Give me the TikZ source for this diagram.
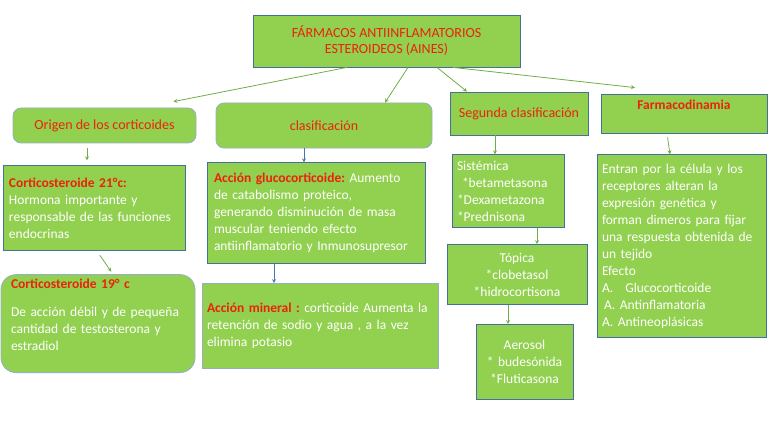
\documentclass[tikz,border=0pt]{standalone}
\usepackage{fontspec}
\setmainfont{Carlito}
\usepackage{xcolor}
\usepackage{tikz}
\usetikzlibrary{arrows, positioning, calc}

\definecolor{boxgreen}{RGB}{146,208,80}
\definecolor{edgeblue}{RGB}{65,113,156}
\definecolor{edgelight}{RGB}{150,175,195}
\definecolor{headred}{RGB}{235,35,10}
\definecolor{linkgreen}{RGB}{112,173,71}
\definecolor{linkblue}{RGB}{68,114,196}

\newcommand{\hd}[1]{\textcolor{headred}{\textbf{#1}}}
\frenchspacing

\begin{document}
\begin{tikzpicture}[
  x=1pt, y=-1pt,
  titlebox/.style={draw=edgeblue, fill=boxgreen, text=headred,
                   align=center, font=\fontsize{14}{16}\selectfont,
                   minimum width=267pt, minimum height=52pt},
  hdbox/.style={draw=edgeblue, fill=boxgreen, text=headred,
                font=\fontsize{14}{16}\selectfont, inner sep=0pt},
  roundbox/.style={hdbox, draw=edgelight, rounded corners=8pt},
  infobox/.style={draw=edgeblue, fill=boxgreen, text=white, align=left,
                  font=\fontsize{13.5}{17}\selectfont,
                  inner xsep=6pt, inner ysep=0pt},
  listbox/.style={infobox, align=center},
  linkarrow/.style={->, draw=linkgreen},
  bluelink/.style={->, draw=linkblue},
  >=stealth, line width=0.8pt
]
\useasboundingbox (0,0) rectangle (768,433);

\node[titlebox] (main) at (386.5,41)
    {FÁRMACOS ANTIINFLAMATORIOS\\ESTEROIDEOS (AINES)};

% column 1
\node[roundbox, minimum width=183pt, minimum height=35pt] (orig)
    at (104.5,125.5) {Origen de los corticoides};
\node[infobox, text width=170pt, minimum height=85pt,
      below=22pt of orig, xshift=-10.5pt] (cort21)
    {\hd{Corticosteroide 21°c:}\\ Hormona importante y\\
     responsable de las funciones\\ endocrinas};
\node[infobox, draw=edgelight, rounded corners=15pt, inner xsep=10pt,
      text width=174pt, minimum height=98pt,
      below=23pt of cort21, xshift=4pt] (cort19)
    {\hd{Corticosteroide 19° c}\\[11pt] De acción débil y de pequeña\\
     cantidad de testosterona y\\ estradiol\\ \mbox{}};

% column 2
\node[roundbox, minimum width=216pt, minimum height=45pt] (clas)
    at (324,125.5) {clasificación};
\node[infobox, inner xsep=7pt, text width=204pt, minimum height=101pt,
      below=14pt of clas, xshift=-8pt] (gluco)
    {\hd{Acción glucocorticoide:} Aumento\\ de catabolismo proteico,\\
     generando disminución de masa\\ muscular teniendo efecto\\
     antiinflamatorio y Inmunosupresor};
\node[infobox, draw=edgelight, inner xsep=5pt, text width=226pt,
      minimum height=85pt, below=19pt of gluco, xshift=4pt] (miner)
    {\hd{Acción mineral :} corticoide Aumenta la\\
     retención de sodio y agua , a la vez\\ elimina potasio};

% column 3
\node[hdbox, minimum width=138pt, minimum height=43pt] (segcl)
    at (519,113.5) {Segunda clasificación};
\node[infobox, inner xsep=5pt, text width=102pt, minimum height=73pt,
      below=19pt of segcl, xshift=-11pt] (sist)
    {Sistémica\\ \hspace{5pt}*betametasona\\{}*Dexametazona\\{}*Prednisona};
\node[listbox, text width=128pt, minimum height=60pt,
      below=16pt of sist, xshift=9pt] (topica)
    {Tópica\\{}*clobetasol\\{}*hidrocortisona};
\node[listbox, text width=85pt, minimum height=75pt,
      below=19pt of topica, xshift=7.5pt] (aeros)
    {Aerosol\\{}* budesónida\\{}*Fluticasona};

% column 4
\node[hdbox, font=\fontsize{13.5}{16}\selectfont\bfseries,
      text depth=16.5pt, minimum width=166pt, minimum height=39pt] (farmaco)
    at (684,113.5) {Farmacodinamia};
\node[infobox, inner xsep=5pt, text width=159pt, minimum height=183pt,
      below=21pt of farmaco, xshift=-2.5pt] (efecto)
    {Entran por la célula y los\\ receptores alteran la\\
     expresión genética y\\ forman dimeros para fijar\\
     una respuesta obtenida de\\ un tejido\\ Efecto\\
     A.\hspace{12pt}Glucocorticoide\\ \hspace{2pt}A. Antinflamatoria\\
     A. Antineoplásicas};

% links from the title
\draw[linkarrow] ([xshift=-39.5pt]main.south) -- ($(orig.north east)+(-23,-6)$);
\draw[linkarrow] ([xshift=21.5pt]main.south) -- ([xshift=61pt]clas.north);
\draw[linkarrow] ([xshift=50.5pt]main.south) -- ([xshift=-52pt]segcl.north);
\draw[linkarrow] ([xshift=66.5pt]main.south) -- ($(farmaco.north)+(-49,-6)$);

% links inside the columns
\draw[linkarrow, shorten <=5pt, shorten >=5pt]
    ([xshift=-17.5pt]orig.south) -- ([xshift=-7pt]cort21.north);
\draw[linkarrow, shorten <=5pt, shorten >=3pt]
    ([xshift=3pt]cort21.south) -- ([xshift=15pt]cort19.north);
\draw[bluelink] ([xshift=-20pt]clas.south) -- ([xshift=-12pt]gluco.north);
\draw[bluelink] ([xshift=-42pt]gluco.south) -- ([xshift=-46pt]miner.north);
\draw[linkarrow] ([xshift=-24pt]segcl.south) -- ([xshift=-13pt]sist.north);
\draw[linkarrow] ([xshift=29pt]sist.south) -- ([xshift=20pt]topica.north);
\draw[linkarrow] ([xshift=-9pt]topica.south) -- ([xshift=-16.5pt]aeros.north);
\draw[linkarrow, shorten <=4pt]
    ([xshift=-17pt]farmaco.south) -- ([xshift=-11.5pt]efecto.north);
\end{tikzpicture}
\end{document}
